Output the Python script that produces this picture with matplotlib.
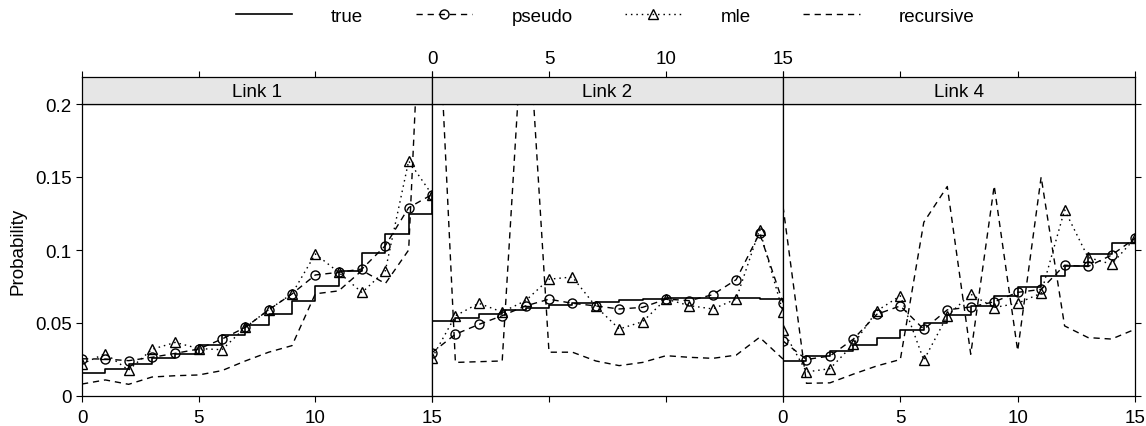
import matplotlib
matplotlib.use("Agg")
import matplotlib.pyplot as plt
from matplotlib.lines import Line2D

plt.rcParams['font.family'] = ['Liberation Sans', 'DejaVu Sans']
plt.rcParams['font.size'] = 13.5

# data, one value per x = 0..15
x = list(range(16))
panel_names = ["Link 1", "Link 2", "Link 4"]

true_link1 = [0.0155, 0.0185, 0.022, 0.026, 0.029, 0.035, 0.0415, 0.0485, 0.056, 0.065,
              0.0755, 0.0857, 0.098, 0.111, 0.125, 0.138]
pseudo_link1 = [0.0255, 0.0253, 0.0242, 0.0265, 0.0292, 0.0322, 0.039, 0.047, 0.059, 0.0699,
                0.0829, 0.0847, 0.087, 0.103, 0.129, 0.138]
mle_link1 = [0.022, 0.029, 0.0178, 0.032, 0.0367, 0.0325, 0.0317, 0.047, 0.0591, 0.070,
             0.0973, 0.0847, 0.0709, 0.0858, 0.161, 0.138]
rec_link1 = [0.0082, 0.011, 0.008, 0.013, 0.0139, 0.0144, 0.0174, 0.024, 0.030, 0.0345,
             0.070, 0.072, 0.086, 0.077, 0.100, 0.45]

true_link2 = [0.0514, 0.0537, 0.056, 0.0587, 0.0606, 0.0622, 0.0635, 0.0645, 0.0658, 0.0663,
              0.067, 0.067, 0.0672, 0.067, 0.0663, 0.065]
pseudo_link2 = [0.0297, 0.0423, 0.049, 0.055, 0.0617, 0.0663, 0.0635, 0.0617, 0.0596, 0.0607,
                0.0664, 0.0653, 0.0694, 0.0797, 0.1115, 0.064]
mle_link2 = [0.026, 0.0549, 0.0635, 0.0575, 0.0653, 0.080, 0.0815, 0.0614, 0.0459, 0.0509,
             0.0664, 0.0619, 0.0596, 0.0664, 0.114, 0.0575]
rec_link2 = [0.36, 0.023, 0.0235, 0.024, 0.29, 0.030, 0.030, 0.024, 0.0208, 0.023,
             0.0276, 0.0265, 0.0258, 0.028, 0.0402, 0.0253]

true_link4 = [0.024, 0.0274, 0.0309, 0.035, 0.040, 0.0453, 0.0503, 0.0553, 0.0617, 0.0686,
              0.075, 0.0823, 0.089, 0.097, 0.105, 0.108]
pseudo_link4 = [0.0377, 0.025, 0.0274, 0.039, 0.056, 0.0617, 0.0457, 0.059, 0.061, 0.0645,
                0.071, 0.073, 0.0896, 0.0887, 0.0965, 0.108]
mle_link4 = [0.045, 0.0165, 0.0187, 0.0354, 0.0583, 0.0686, 0.0245, 0.0549, 0.0697, 0.0606,
             0.0635, 0.0704, 0.1275, 0.0949, 0.0903, 0.108]
rec_link4 = [0.13, 0.0087, 0.009, 0.015, 0.0206, 0.025, 0.119, 0.1435, 0.0286, 0.144,
             0.031, 0.150, 0.048, 0.040, 0.039, 0.0457]

trues = [true_link1, true_link2, true_link4]
pseudos = [pseudo_link1, pseudo_link2, pseudo_link4]
mles = [mle_link1, mle_link2, mle_link4]
recs = [rec_link1, rec_link2, rec_link4]

xticks = [0, 5, 10, 15]
yticks = [0, 0.05, 0.1, 0.15, 0.2]
ytick_labels = ["0", "0.05", "0.1", "0.15", "0.2"]

W, H = 1146, 427
fig = plt.figure(figsize=(W / 100, H / 100), dpi=100)

# panel edges in pixels
lefts = [82, 432, 783]
rights = [432, 783, 1135]
plot_top, plot_bot = 105, 397
strip_top = 78

dash_style = dict(color='black', lw=1.0, dashes=(4.5, 3.5))
dot_style = dict(color='black', lw=1.0, dashes=(1.1, 2.8))
strip_color = '#e6e6e6'

for i in range(3):
    l = lefts[i] / W
    w = (rights[i] - lefts[i]) / W
    ax = fig.add_axes([l, 1 - plot_bot / H, w, (plot_bot - plot_top) / H])
    st = fig.add_axes([l, 1 - plot_top / H, w, (plot_top - strip_top) / H])

    ax.step(x, trues[i], where='post', color='black', lw=1.2)
    ax.plot(x, recs[i], **dash_style)
    ax.plot(x, pseudos[i], marker='o', ms=6.5, mfc='none', mec='black', mew=1.0, **dash_style)
    ax.plot(x, mles[i], marker='^', ms=7.5, mfc='none', mec='black', mew=1.0, **dot_style)

    ax.set_xlim(0, 15)
    ax.set_ylim(0, 0.2)
    ax.tick_params(direction='out', length=4.3, width=0.8, labelsize=13.5)
    ax.set_xticks(xticks)
    ax.set_yticks(yticks)
    if i == 1:
        ax.set_xticklabels([])
    else:
        ax.tick_params(axis='x', pad=5)
    if i == 0:
        ax.set_yticklabels(ytick_labels)
        ax.tick_params(axis='y', pad=3)
    elif i == 2:
        ax.yaxis.tick_right()
        ax.set_yticklabels([])
    else:
        ax.tick_params(axis='y', left=False, labelleft=False)
    for sp in ax.spines.values():
        sp.set_linewidth(0.9)

    st.set_facecolor(strip_color)
    st.set_xlim(0, 15)
    st.set_yticks([])
    st.xaxis.tick_top()
    st.set_xticks(xticks)
    st.tick_params(axis='x', direction='out', length=4.3, width=0.8, labelsize=13.5, pad=3,
                   bottom=False)
    if i != 1:
        st.set_xticklabels([])
    for sp in st.spines.values():
        sp.set_linewidth(0.9)
    st.text(0.5, 0.45, panel_names[i], transform=st.transAxes, ha='center', va='center',
            fontsize=13.5)

fig.text(18 / W, 1 - 251 / H, "Probability", rotation=90, ha='center', va='center', fontsize=13.5)

handles = [
    Line2D([], [], color='black', lw=1.2),
    Line2D([], [], marker='o', ms=6.5, mfc='none', mec='black', mew=1.0, **dash_style),
    Line2D([], [], marker='^', ms=7.5, mfc='none', mec='black', mew=1.0, **dot_style),
    Line2D([], [], **dash_style),
]
labels = ["true", "pseudo", "mle", "recursive"]
fig.legend(handles, labels, loc='center', bbox_to_anchor=(0.528, 1 - 17 / H), ncol=4,
           frameon=False, handlelength=3.0, handletextpad=2.1, columnspacing=2.8,
           numpoints=1, fontsize=13.5, borderpad=0.2)

fig.savefig("out.png", dpi=100)
